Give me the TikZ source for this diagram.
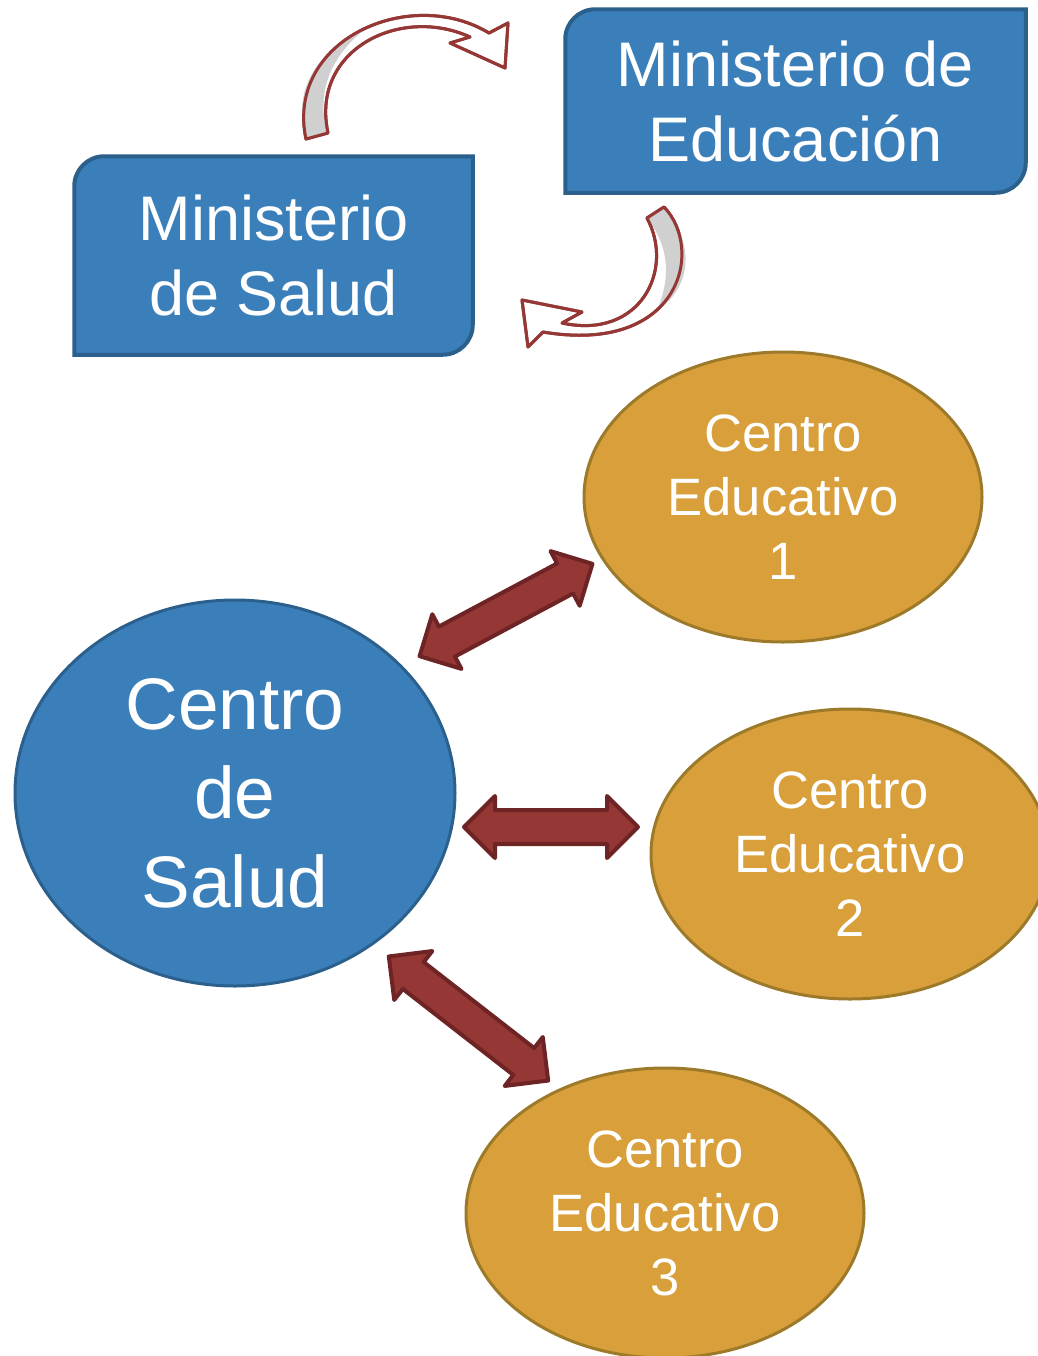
\documentclass[tikz,border=0pt]{standalone}
\usepackage{fontspec}
\setmainfont{Liberation Sans}
\usetikzlibrary{shapes.geometric,shapes.arrows,calc}

\definecolor{boxblue}{HTML}{3B7FBA}
\definecolor{boxblueline}{HTML}{2B5F8C}
\definecolor{centroorange}{HTML}{D89F3A}
\definecolor{centroline}{HTML}{9C7A2A}
\definecolor{arrowred}{HTML}{953735}
\definecolor{arrowredline}{HTML}{6E2424}
\definecolor{curvegray}{HTML}{D0D0D0}

\tikzset{every picture/.style={line width=0.75pt}}
\tikzset{
  mintext/.style={text=white, align=center, inner sep=0pt, font=\fontsize{31.5}{37.5}\selectfont},
  minbox/.style={draw=boxblueline, fill=boxblue, line width=2pt},
  saludnode/.style={ellipse, draw=boxblueline, fill=boxblue, line width=1.5pt, text=white, align=center,
    font=\fontsize{36.5}{44.5}\selectfont, minimum width=220pt, minimum height=193pt, inner sep=0pt},
  centronode/.style={ellipse, draw=centroline, fill=centroorange, line width=1.5pt, text=white, align=center,
    font=\fontsize{26.3}{32}\selectfont, minimum width=199pt, minimum height=145pt, inner sep=0pt},
  dblarrow/.style={double arrow, draw=arrowredline, fill=arrowred, line width=2pt, line join=round, inner sep=7.5pt,
    double arrow head extend=7pt, minimum width=29pt},
  curvarrow/.style={draw=arrowred, line width=1.5pt, line join=round, fill=white},
}

\begin{document}
\begin{tikzpicture}[x=0.5pt,y=0.5pt,yscale=-1,xscale=1]
\useasboundingbox (0,0) rectangle (1038,1356);

% Ministerio de Educacion
\node[mintext, minimum width=229.5pt, minimum height=91pt] (meduc) at (795.5,101) {};
\path[minbox] (meduc.south west) [rounded corners=15pt] -- (meduc.north west) [sharp corners] -- (meduc.north east) [rounded corners=15pt] -- (meduc.south east) [sharp corners] -- cycle;
\node[mintext] (meductxt) at (meduc.center) {Ministerio de\\Educación};

% Ministerio de Salud
\node[mintext, minimum width=198.5pt, minimum height=98.5pt] (msalud) at (273.5,255.5) {};
\path[minbox] (msalud.south west) [rounded corners=15pt] -- (msalud.north west) [sharp corners] -- (msalud.north east) [rounded corners=15pt] -- (msalud.south east) [sharp corners] -- cycle;
\node[mintext] (msaludtxt) at (msalud.center) {Ministerio\\de Salud};

%Curved arrow: Salud -> Educacion
\path[curvarrow] (306,139) .. controls (285,40) and (410,-15) .. (489,33) -- (508,23) -- (505,68) -- (450,43) -- (470,37) .. controls (400,5) and (310,50) .. (328,133) -- cycle;
\path[fill=curvegray] (306,139) .. controls (292,90) and (315,52) .. (368,27) .. controls (330,55) and (315,95) .. (328,133) -- cycle;
\draw[curvarrow, fill=none] (306,139) .. controls (285,40) and (410,-15) .. (489,33) -- (508,23) -- (505,68) -- (450,43) -- (470,37) .. controls (400,5) and (310,50) .. (328,133) -- cycle;

%Curved arrow: Educacion -> Salud
\path[curvarrow] (664,207) .. controls (705,250) and (680,355) .. (543,332) -- (528,347) -- (522,300) -- (582,312) -- (562,323) .. controls (640,340) and (675,270) .. (647,218) -- cycle;
\path[fill=curvegray] (664,207) .. controls (697,245) and (690,290) .. (657,310) .. controls (672,275) and (668,245) .. (647,218) -- cycle;
\draw[curvarrow, fill=none] (664,207) .. controls (705,250) and (680,355) .. (543,332) -- (528,347) -- (522,300) -- (582,312) -- (562,323) .. controls (640,340) and (675,270) .. (647,218) -- cycle;

% Centro de Salud
\node[saludnode] (csalud) at (235,793) {Centro\\de\\Salud};

% Centros Educativos
\node[centronode] (ce1) at (783,497) {Centro\\Educativo\\1};
\node[centronode] (ce2) at (850,854) {Centro\\Educativo\\2};
\node[centronode] (ce3) at (665,1213) {Centro\\Educativo\\3};

% Double arrows
\coordinate (a1s) at (418,657);
\coordinate (a1e) at (594,563);
\coordinate (a2s) at (462,827);
\coordinate (a2e) at (640,827);
\coordinate (a3s) at (387,955);
\coordinate (a3e) at (550,1082);
\node[dblarrow, minimum height=98pt, rotate=28.1] (arr1) at ($(a1s)!0.5!(a1e)$) {};
\node[dblarrow, minimum height=87pt] (arr2) at ($(a2s)!0.5!(a2e)$) {};
\node[dblarrow, minimum height=101pt, rotate=-37.9] (arr3) at ($(a3s)!0.5!(a3e)$) {};

\end{tikzpicture}
\end{document}
